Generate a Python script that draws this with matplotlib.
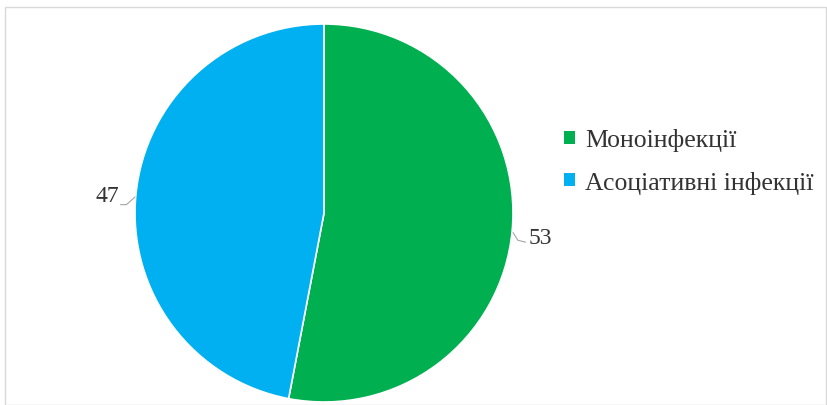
import matplotlib
matplotlib.use("Agg")
import matplotlib.pyplot as plt
from matplotlib.patches import Rectangle, Patch
import numpy as np

categories = ["Моноінфекції", "Асоціативні інфекції"]
values = [53, 47]
colors = ["#00B050", "#00B0F0"]

W, H = 828, 406
fig = plt.figure(figsize=(W / 100, H / 100), dpi=100)
fig.patch.set_facecolor("white")
plt.rcParams['font.family'] = ['Liberation Serif', 'DejaVu Serif']

# outer chart border
fig.add_artist(Rectangle((5 / W, 0), (W - 7) / W, (H - 8) / H, transform=fig.transFigure,
                         fill=False, edgecolor="#D9D9D9", linewidth=1))

cx, cy, r = 324, 214, 189
ax = fig.add_axes([(cx - r) / W, (H - cy - r) / H, 2 * r / W, 2 * r / H])
wedges, _ = ax.pie(values, colors=colors, startangle=90, counterclock=False,
                   wedgeprops=dict(edgecolor="white", linewidth=1.2))
ax.set_xlim(-1, 1)
ax.set_ylim(-1, 1)
ax.set_aspect("equal")
ax.axis("off")

# data labels with short leader lines
for w, v in zip(wedges, values):
    ang = np.deg2rad((w.theta1 + w.theta2) / 2)
    x0, y0 = np.cos(ang), np.sin(ang)
    sign = 1 if x0 > 0 else -1
    ex, ey = x0 * 1.0, y0 * 1.0
    if sign > 0:
        xs = [ex + 0.005, ex + 0.03, ex + 0.07]
        ys = [ey - 0.01, ey - 0.05, ey - 0.06]
        tx, ty = ex + 0.085, ey - 0.035
    else:
        xs = [ex - 0.005, ex - 0.05, ex - 0.08]
        ys = [ey - 0.01, ey - 0.05, ey - 0.05]
        tx, ty = ex - 0.09, ey + 0.0
    ax.plot(xs, ys, color="#A6A6A6", linewidth=0.8, clip_on=False)
    ax.text(tx, ty, str(v), ha="left" if sign > 0 else "right",
            va="center", fontsize=17, color="#333333", clip_on=False)

handles = [Patch(facecolor=c, edgecolor="none") for c in colors]
fig.legend(handles, categories, loc="center left", bbox_to_anchor=(541 / W, 1 - 162 / H),
           frameon=False, fontsize=18.5, handlelength=0.42, handleheight=0.42,
           handletextpad=0.4, labelspacing=0.75, labelcolor="#333333")

fig.savefig("out.png", dpi=100, facecolor="white")
